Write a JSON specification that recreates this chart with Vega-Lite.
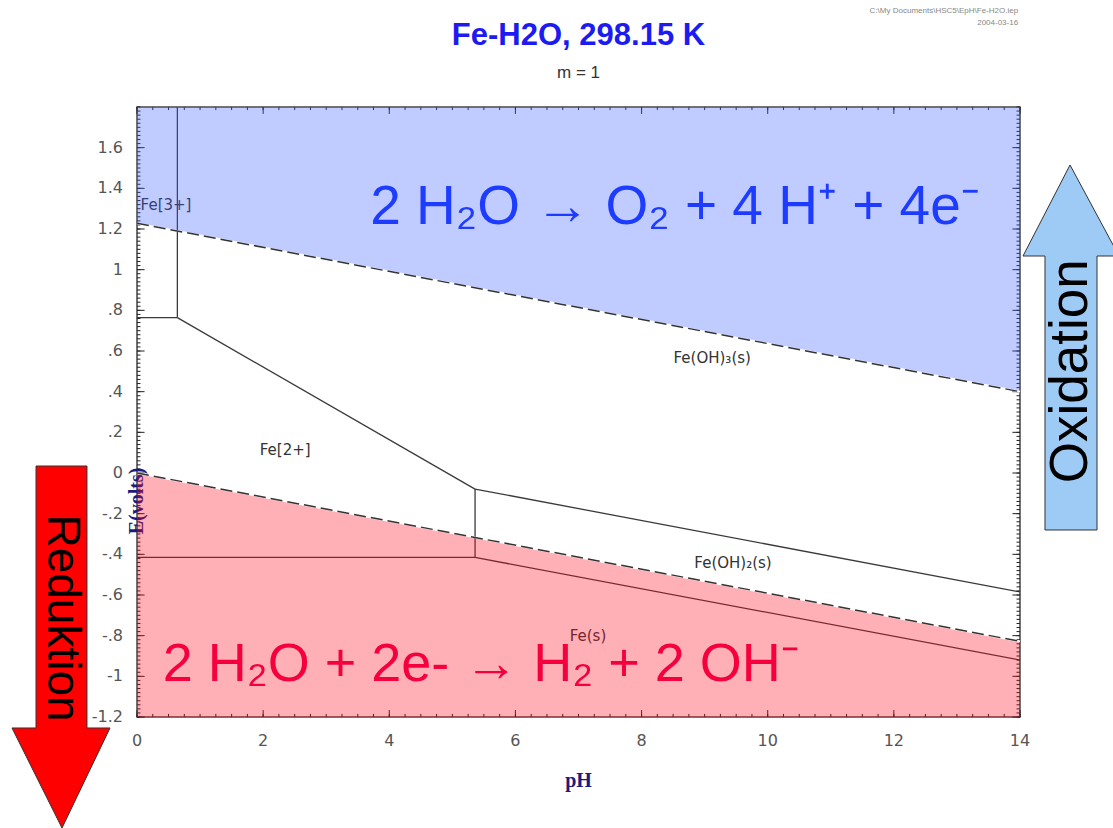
{
  "$schema": "https://vega.github.io/schema/vega-lite/v6.json",
  "width": 883,
  "height": 610,
  "autosize": {"type": "none"},
  "padding": {"left": 137, "top": 107, "right": 93, "bottom": 111},
  "background": "white",
  "config": {
    "view": {"stroke": "#444444", "strokeWidth": 1.5}
  },
  "datasets": {
    "regions": [
      {"seg": "A", "o": 1, "x": 0, "y": 0.764},
      {"seg": "A", "o": 2, "x": 0.64, "y": 0.764},
      {"seg": "B", "o": 1, "x": 0.64, "y": 0.764},
      {"seg": "B", "o": 2, "x": 0.64, "y": 1.8},
      {"seg": "C", "o": 1, "x": 0.64, "y": 0.764},
      {"seg": "C", "o": 2, "x": 5.36, "y": -0.079},
      {"seg": "D", "o": 1, "x": 5.36, "y": -0.079},
      {"seg": "D", "o": 2, "x": 14, "y": -0.585},
      {"seg": "E", "o": 1, "x": 5.36, "y": -0.079},
      {"seg": "E", "o": 2, "x": 5.36, "y": -0.415},
      {"seg": "F", "o": 1, "x": 0, "y": -0.415},
      {"seg": "F", "o": 2, "x": 5.36, "y": -0.415},
      {"seg": "G", "o": 1, "x": 5.36, "y": -0.415},
      {"seg": "G", "o": 2, "x": 14, "y": -0.92}
    ],
    "xLabels": [{"v": 0, "label": "0"}, {"v": 2, "label": "2"}, {"v": 4, "label": "4"}, {"v": 6, "label": "6"}, {"v": 8, "label": "8"}, {"v": 10, "label": "10"}, {"v": 12, "label": "12"}, {"v": 14, "label": "14"}],
    "yLabels": [{"v":-1.2,"label":"-1.2"},{"v":-1,"label":"-1"},{"v":-0.8,"label":"-.8"},{"v":-0.6,"label":"-.6"},{"v":-0.4,"label":"-.4"},{"v":-0.2,"label":"-.2"},{"v":0,"label":"0"},{"v":0.2,"label":".2"},{"v":0.4,"label":".4"},{"v":0.6,"label":".6"},{"v":0.8,"label":".8"},{"v":1,"label":"1"},{"v":1.2,"label":"1.2"},{"v":1.4,"label":"1.4"},{"v":1.6,"label":"1.6"}],
    "axisTitles": [
      {"label": "pH", "x": 7, "y": -1.2, "angle": 0, "axis": "x"},
      {"label": "E(volts)", "x": 0, "y": 0.305, "angle": 270, "axis": "y"}
    ],
    "xMinor": [{"v":0},{"v":0.25},{"v":0.5},{"v":0.75},{"v":1},{"v":1.25},{"v":1.5},{"v":1.75},{"v":2},{"v":2.25},{"v":2.5},{"v":2.75},{"v":3},{"v":3.25},{"v":3.5},{"v":3.75},{"v":4},{"v":4.25},{"v":4.5},{"v":4.75},{"v":5},{"v":5.25},{"v":5.5},{"v":5.75},{"v":6},{"v":6.25},{"v":6.5},{"v":6.75},{"v":7},{"v":7.25},{"v":7.5},{"v":7.75},{"v":8},{"v":8.25},{"v":8.5},{"v":8.75},{"v":9},{"v":9.25},{"v":9.5},{"v":9.75},{"v":10},{"v":10.25},{"v":10.5},{"v":10.75},{"v":11},{"v":11.25},{"v":11.5},{"v":11.75},{"v":12},{"v":12.25},{"v":12.5},{"v":12.75},{"v":13},{"v":13.25},{"v":13.5},{"v":13.75},{"v":14}],
    "yMinor": [{"v":-1.2},{"v":-1.18},{"v":-1.16},{"v":-1.14},{"v":-1.12},{"v":-1.1},{"v":-1.08},{"v":-1.06},{"v":-1.04},{"v":-1.02},{"v":-1},{"v":-0.98},{"v":-0.96},{"v":-0.94},{"v":-0.92},{"v":-0.9},{"v":-0.88},{"v":-0.86},{"v":-0.84},{"v":-0.82},{"v":-0.8},{"v":-0.78},{"v":-0.76},{"v":-0.74},{"v":-0.72},{"v":-0.7},{"v":-0.68},{"v":-0.66},{"v":-0.64},{"v":-0.62},{"v":-0.6},{"v":-0.58},{"v":-0.56},{"v":-0.54},{"v":-0.52},{"v":-0.5},{"v":-0.48},{"v":-0.46},{"v":-0.44},{"v":-0.42},{"v":-0.4},{"v":-0.38},{"v":-0.36},{"v":-0.34},{"v":-0.32},{"v":-0.3},{"v":-0.28},{"v":-0.26},{"v":-0.24},{"v":-0.22},{"v":-0.2},{"v":-0.18},{"v":-0.16},{"v":-0.14},{"v":-0.12},{"v":-0.1},{"v":-0.08},{"v":-0.06},{"v":-0.04},{"v":-0.02},{"v":0},{"v":0.02},{"v":0.04},{"v":0.06},{"v":0.08},{"v":0.1},{"v":0.12},{"v":0.14},{"v":0.16},{"v":0.18},{"v":0.2},{"v":0.22},{"v":0.24},{"v":0.26},{"v":0.28},{"v":0.3},{"v":0.32},{"v":0.34},{"v":0.36},{"v":0.38},{"v":0.4},{"v":0.42},{"v":0.44},{"v":0.46},{"v":0.48},{"v":0.5},{"v":0.52},{"v":0.54},{"v":0.56},{"v":0.58},{"v":0.6},{"v":0.62},{"v":0.64},{"v":0.66},{"v":0.68},{"v":0.7},{"v":0.72},{"v":0.74},{"v":0.76},{"v":0.78},{"v":0.8},{"v":0.82},{"v":0.84},{"v":0.86},{"v":0.88},{"v":0.9},{"v":0.92},{"v":0.94},{"v":0.96},{"v":0.98},{"v":1},{"v":1.02},{"v":1.04},{"v":1.06},{"v":1.08},{"v":1.1},{"v":1.12},{"v":1.14},{"v":1.16},{"v":1.18},{"v":1.2},{"v":1.22},{"v":1.24},{"v":1.26},{"v":1.28},{"v":1.3},{"v":1.32},{"v":1.34},{"v":1.36},{"v":1.38},{"v":1.4},{"v":1.42},{"v":1.44},{"v":1.46},{"v":1.48},{"v":1.5},{"v":1.52},{"v":1.54},{"v":1.56},{"v":1.58},{"v":1.6},{"v":1.62},{"v":1.64},{"v":1.66},{"v":1.68},{"v":1.7},{"v":1.72},{"v":1.74},{"v":1.76},{"v":1.78},{"v":1.8}],
    "species": [
      {"label": "Fe[3+]", "x": 0.46, "y": 1.318},
      {"label": "Fe[2+]", "x": 2.35, "y": 0.113},
      {"label": "Fe(OH)₃(s)", "x": 9.12, "y": 0.566},
      {"label": "Fe(OH)₂(s)", "x": 9.45, "y": -0.443},
      {"label": "Fe(s)", "x": 7.15, "y": -0.8}
    ],
    "oxygen": [
      {"x": 0, "y": 1.228},
      {"x": 14, "y": 0.4}
    ],
    "hydrogen": [
      {"x": 0, "y": 0},
      {"x": 14, "y": -0.828}
    ],
    "water": [
      {"id": "O2", "x": 0, "y": 1.228},
      {"id": "O2", "x": 14, "y": 0.4},
      {"id": "H2", "x": 0, "y": 0},
      {"id": "H2", "x": 14, "y": -0.828}
    ],
    "oxText": [{"label": "2 H₂O → O₂ + 4 H⁺ + 4e⁻", "x": 8.53, "y": 1.225}],
    "redText": [{"label": "2 H₂O + 2e- → H₂ + 2 OH⁻", "x": 5.45, "y": -1.023}],
    "arrows": [
      {"arrow": "red", "o": 1, "x": -1.601, "y": 0.0344},
      {"arrow": "red", "o": 2, "x": -0.793, "y": 0.0344},
      {"arrow": "red", "o": 3, "x": -0.793, "y": -1.254},
      {"arrow": "red", "o": 4, "x": -0.428, "y": -1.254},
      {"arrow": "red", "o": 5, "x": -1.189, "y": -1.746},
      {"arrow": "red", "o": 6, "x": -1.982, "y": -1.254},
      {"arrow": "red", "o": 7, "x": -1.601, "y": -1.254},
      {"arrow": "blue", "o": 1, "x": 14.396, "y": -0.2803},
      {"arrow": "blue", "o": 2, "x": 14.396, "y": 1.0672},
      {"arrow": "blue", "o": 3, "x": 14.048, "y": 1.0672},
      {"arrow": "blue", "o": 4, "x": 14.793, "y": 1.5148},
      {"arrow": "blue", "o": 5, "x": 15.57, "y": 1.0672},
      {"arrow": "blue", "o": 6, "x": 15.221, "y": 1.0672},
      {"arrow": "blue", "o": 7, "x": 15.221, "y": -0.2803}
    ],
    "arrowText": [
      {"label": "Reduktion", "x": -1.189, "y": -0.713, "angle": 90, "size": 46},
      {"label": "Oxidation", "x": 14.81, "y": 0.5, "angle": 270, "size": 53}
    ],
    "titles": [
      {"label": "Fe-H2O, 298.15 K", "x": 7, "y": 2.105}
    ],
    "subtitles": [
      {"label": "m = 1", "x": 7, "y": 1.943}
    ],
    "fileText": [
      {"label": "C:\\My Documents\\HSC5\\EpH\\Fe-H2O.iep", "x": 13.97, "y": 2.27},
      {"label": "2004-03-16", "x": 13.97, "y": 2.212}
    ]
  },
  "layer": [
    {
      "data": {"name": "regions"},
      "mark": {"type": "line", "color": "#3a3a3a", "strokeWidth": 1.3},
      "encoding": {
        "x": {"field": "x", "type": "quantitative", "scale": {"domain": [0, 14], "nice": false, "zero": false}, "axis": null},
        "y": {"field": "y", "type": "quantitative", "scale": {"domain": [-1.2, 1.8], "nice": false, "zero": false}, "axis": null},
        "detail": {"field": "seg"},
        "order": {"field": "o", "type": "quantitative"}
      }
    },
    {
      "data": {"name": "xMinor"},
      "mark": {"type": "rule", "color": "#222222", "strokeWidth": 1},
      "encoding": {
        "x": {"field": "v", "type": "quantitative", "scale": {"domain": [0, 14], "nice": false, "zero": false}, "axis": null},
        "y": {"datum": -1.2, "type": "quantitative", "scale": {"domain": [-1.2, 1.8], "nice": false, "zero": false}, "axis": null},
        "y2": {"datum": -1.185}
      }
    },
    {
      "data": {"name": "xMinor"},
      "mark": {"type": "rule", "color": "#222222", "strokeWidth": 1},
      "encoding": {
        "x": {"field": "v", "type": "quantitative", "scale": {"domain": [0, 14], "nice": false, "zero": false}, "axis": null},
        "y": {"datum": 1.8, "type": "quantitative", "scale": {"domain": [-1.2, 1.8], "nice": false, "zero": false}, "axis": null},
        "y2": {"datum": 1.785}
      }
    },
    {
      "data": {"name": "xLabels"},
      "mark": {"type": "rule", "color": "#222222", "strokeWidth": 1},
      "encoding": {
        "x": {"field": "v", "type": "quantitative", "scale": {"domain": [0, 14], "nice": false, "zero": false}, "axis": null},
        "y": {"datum": -1.2, "type": "quantitative", "scale": {"domain": [-1.2, 1.8], "nice": false, "zero": false}, "axis": null},
        "y2": {"datum": -1.166}
      }
    },
    {
      "data": {"name": "xLabels"},
      "mark": {"type": "rule", "color": "#222222", "strokeWidth": 1},
      "encoding": {
        "x": {"field": "v", "type": "quantitative", "scale": {"domain": [0, 14], "nice": false, "zero": false}, "axis": null},
        "y": {"datum": 1.8, "type": "quantitative", "scale": {"domain": [-1.2, 1.8], "nice": false, "zero": false}, "axis": null},
        "y2": {"datum": 1.766}
      }
    },
    {
      "data": {"name": "yMinor"},
      "mark": {"type": "rule", "color": "#222222", "strokeWidth": 1},
      "encoding": {
        "y": {"field": "v", "type": "quantitative", "scale": {"domain": [-1.2, 1.8], "nice": false, "zero": false}, "axis": null},
        "x": {"datum": 0, "type": "quantitative", "scale": {"domain": [0, 14], "nice": false, "zero": false}, "axis": null},
        "x2": {"datum": 0.055}
      }
    },
    {
      "data": {"name": "yMinor"},
      "mark": {"type": "rule", "color": "#222222", "strokeWidth": 1},
      "encoding": {
        "y": {"field": "v", "type": "quantitative", "scale": {"domain": [-1.2, 1.8], "nice": false, "zero": false}, "axis": null},
        "x": {"datum": 14, "type": "quantitative", "scale": {"domain": [0, 14], "nice": false, "zero": false}, "axis": null},
        "x2": {"datum": 13.945}
      }
    },
    {
      "data": {"name": "yLabels"},
      "mark": {"type": "rule", "color": "#222222", "strokeWidth": 1},
      "encoding": {
        "y": {"field": "v", "type": "quantitative", "scale": {"domain": [-1.2, 1.8], "nice": false, "zero": false}, "axis": null},
        "x": {"datum": 0, "type": "quantitative", "scale": {"domain": [0, 14], "nice": false, "zero": false}, "axis": null},
        "x2": {"datum": 0.12}
      }
    },
    {
      "data": {"name": "yLabels"},
      "mark": {"type": "rule", "color": "#222222", "strokeWidth": 1},
      "encoding": {
        "y": {"field": "v", "type": "quantitative", "scale": {"domain": [-1.2, 1.8], "nice": false, "zero": false}, "axis": null},
        "x": {"datum": 14, "type": "quantitative", "scale": {"domain": [0, 14], "nice": false, "zero": false}, "axis": null},
        "x2": {"datum": 13.88}
      }
    },
    {
      "data": {"name": "xLabels"},
      "mark": {"type": "text", "font": "DejaVu Sans", "fontSize": 16, "color": "#555555", "align": "center", "baseline": "top", "dy": 16},
      "encoding": {
        "x": {"field": "v", "type": "quantitative", "scale": {"domain": [0, 14], "nice": false, "zero": false}, "axis": null},
        "y": {"datum": -1.2, "type": "quantitative", "scale": {"domain": [-1.2, 1.8], "nice": false, "zero": false}, "axis": null},
        "text": {"field": "label"}
      }
    },
    {
      "data": {"name": "yLabels"},
      "mark": {"type": "text", "font": "DejaVu Sans", "fontSize": 16, "color": "#555555", "align": "right", "baseline": "middle", "dx": -14},
      "encoding": {
        "y": {"field": "v", "type": "quantitative", "scale": {"domain": [-1.2, 1.8], "nice": false, "zero": false}, "axis": null},
        "x": {"datum": 0, "type": "quantitative", "scale": {"domain": [0, 14], "nice": false, "zero": false}, "axis": null},
        "text": {"field": "label"}
      }
    },
    {
      "data": {"name": "axisTitles"},
      "transform": [{"filter": "datum.axis === 'x'"}],
      "mark": {"type": "text", "font": "Liberation Serif", "fontSize": 20, "fontWeight": "bold", "color": "#1a1a80", "align": "center", "baseline": "alphabetic", "dy": 70},
      "encoding": {
        "x": {"field": "x", "type": "quantitative", "scale": {"domain": [0, 14], "nice": false, "zero": false}, "axis": null},
        "y": {"field": "y", "type": "quantitative", "scale": {"domain": [-1.2, 1.8], "nice": false, "zero": false}, "axis": null},
        "text": {"field": "label"}
      }
    },
    {
      "data": {"name": "axisTitles"},
      "transform": [{"filter": "datum.axis === 'y'"}],
      "mark": {"type": "text", "font": "Liberation Serif", "fontSize": 20, "fontWeight": "bold", "color": "#1a1a80", "align": "center", "baseline": "middle", "angle": 270, "dx": -90},
      "encoding": {
        "x": {"field": "x", "type": "quantitative", "scale": {"domain": [0, 14], "nice": false, "zero": false}, "axis": null},
        "y": {"field": "y", "type": "quantitative", "scale": {"domain": [-1.2, 1.8], "nice": false, "zero": false}, "axis": null},
        "text": {"field": "label"}
      }
    },
    {
      "data": {"name": "species"},
      "mark": {"type": "text", "font": "DejaVu Sans", "fontSize": 15, "color": "#333333", "baseline": "middle", "align": "center"},
      "encoding": {
        "x": {"field": "x", "type": "quantitative", "scale": {"domain": [0, 14], "nice": false, "zero": false}, "axis": null},
        "y": {"field": "y", "type": "quantitative", "scale": {"domain": [-1.2, 1.8], "nice": false, "zero": false}, "axis": null},
        "text": {"field": "label"}
      }
    },
    {
      "data": {"name": "oxygen"},
      "mark": {"type": "area", "color": "#3c5cff", "opacity": 0.32},
      "encoding": {
        "x": {"field": "x", "type": "quantitative", "scale": {"domain": [0, 14], "nice": false, "zero": false}, "axis": null},
        "y": {"field": "y", "type": "quantitative", "scale": {"domain": [-1.2, 1.8], "nice": false, "zero": false}, "axis": null},
        "y2": {"datum": 1.8}
      }
    },
    {
      "data": {"name": "hydrogen"},
      "mark": {"type": "area", "color": "#ff0a1e", "opacity": 0.32},
      "encoding": {
        "x": {"field": "x", "type": "quantitative", "scale": {"domain": [0, 14], "nice": false, "zero": false}, "axis": null},
        "y": {"field": "y", "type": "quantitative", "scale": {"domain": [-1.2, 1.8], "nice": false, "zero": false}, "axis": null},
        "y2": {"datum": -1.2}
      }
    },
    {
      "data": {"name": "water"},
      "mark": {"type": "line", "color": "white", "strokeWidth": 1.8},
      "encoding": {
        "x": {"field": "x", "type": "quantitative", "scale": {"domain": [0, 14], "nice": false, "zero": false}, "axis": null},
        "y": {"field": "y", "type": "quantitative", "scale": {"domain": [-1.2, 1.8], "nice": false, "zero": false}, "axis": null},
        "detail": {"field": "id"}
      }
    },
    {
      "data": {"name": "water"},
      "mark": {"type": "line", "color": "#333333", "strokeWidth": 1.5, "strokeDash": [12, 5]},
      "encoding": {
        "x": {"field": "x", "type": "quantitative", "scale": {"domain": [0, 14], "nice": false, "zero": false}, "axis": null},
        "y": {"field": "y", "type": "quantitative", "scale": {"domain": [-1.2, 1.8], "nice": false, "zero": false}, "axis": null},
        "detail": {"field": "id"}
      }
    },
    {
      "data": {"name": "oxText"},
      "mark": {"type": "text", "font": "Liberation Sans", "fontSize": 55, "color": "#1e3cff", "align": "center", "baseline": "alphabetic"},
      "encoding": {
        "x": {"field": "x", "type": "quantitative", "scale": {"domain": [0, 14], "nice": false, "zero": false}, "axis": null},
        "y": {"field": "y", "type": "quantitative", "scale": {"domain": [-1.2, 1.8], "nice": false, "zero": false}, "axis": null},
        "text": {"field": "label"}
      }
    },
    {
      "data": {"name": "redText"},
      "mark": {"type": "text", "font": "Liberation Sans", "fontSize": 54, "color": "#f5003d", "align": "center", "baseline": "alphabetic"},
      "encoding": {
        "x": {"field": "x", "type": "quantitative", "scale": {"domain": [0, 14], "nice": false, "zero": false}, "axis": null},
        "y": {"field": "y", "type": "quantitative", "scale": {"domain": [-1.2, 1.8], "nice": false, "zero": false}, "axis": null},
        "text": {"field": "label"}
      }
    },
    {
      "data": {"name": "arrows"},
      "mark": {"type": "line", "interpolate": "linear-closed", "stroke": "#333333", "strokeWidth": 1, "clip": false},
      "encoding": {
        "x": {"field": "x", "type": "quantitative", "scale": {"domain": [0, 14], "nice": false, "zero": false}, "axis": null},
        "y": {"field": "y", "type": "quantitative", "scale": {"domain": [-1.2, 1.8], "nice": false, "zero": false}, "axis": null},
        "detail": {"field": "arrow"},
        "order": {"field": "o", "type": "quantitative"},
        "fill": {"field": "arrow", "type": "nominal", "scale": {"domain": ["red", "blue"], "range": ["#ff0000", "#9dcbf5"]}, "legend": null}
      }
    },
    {
      "data": {"name": "arrowText"},
      "mark": {"type": "text", "font": "Liberation Sans", "color": "#000000", "align": "center", "baseline": "middle"},
      "encoding": {
        "x": {"field": "x", "type": "quantitative", "scale": {"domain": [0, 14], "nice": false, "zero": false}, "axis": null},
        "y": {"field": "y", "type": "quantitative", "scale": {"domain": [-1.2, 1.8], "nice": false, "zero": false}, "axis": null},
        "text": {"field": "label"},
        "angle": {"field": "angle", "type": "quantitative", "scale": null},
        "size": {"field": "size", "type": "quantitative", "scale": null}
      }
    },
    {
      "data": {"name": "titles"},
      "mark": {"type": "text", "font": "Liberation Sans", "fontSize": 31, "fontWeight": "bold", "color": "#1c1cf2", "align": "center", "baseline": "alphabetic"},
      "encoding": {
        "x": {"field": "x", "type": "quantitative", "scale": {"domain": [0, 14], "nice": false, "zero": false}, "axis": null},
        "y": {"field": "y", "type": "quantitative", "scale": {"domain": [-1.2, 1.8], "nice": false, "zero": false}, "axis": null},
        "text": {"field": "label"}
      }
    },
    {
      "data": {"name": "subtitles"},
      "mark": {"type": "text", "font": "Liberation Sans", "fontSize": 17, "color": "#333333", "align": "center", "baseline": "alphabetic"},
      "encoding": {
        "x": {"field": "x", "type": "quantitative", "scale": {"domain": [0, 14], "nice": false, "zero": false}, "axis": null},
        "y": {"field": "y", "type": "quantitative", "scale": {"domain": [-1.2, 1.8], "nice": false, "zero": false}, "axis": null},
        "text": {"field": "label"}
      }
    },
    {
      "data": {"name": "fileText"},
      "mark": {"type": "text", "font": "Liberation Sans", "fontSize": 8, "color": "#888888", "align": "right", "baseline": "middle"},
      "encoding": {
        "x": {"field": "x", "type": "quantitative", "scale": {"domain": [0, 14], "nice": false, "zero": false}, "axis": null},
        "y": {"field": "y", "type": "quantitative", "scale": {"domain": [-1.2, 1.8], "nice": false, "zero": false}, "axis": null},
        "text": {"field": "label"}
      }
    }
  ]
}
